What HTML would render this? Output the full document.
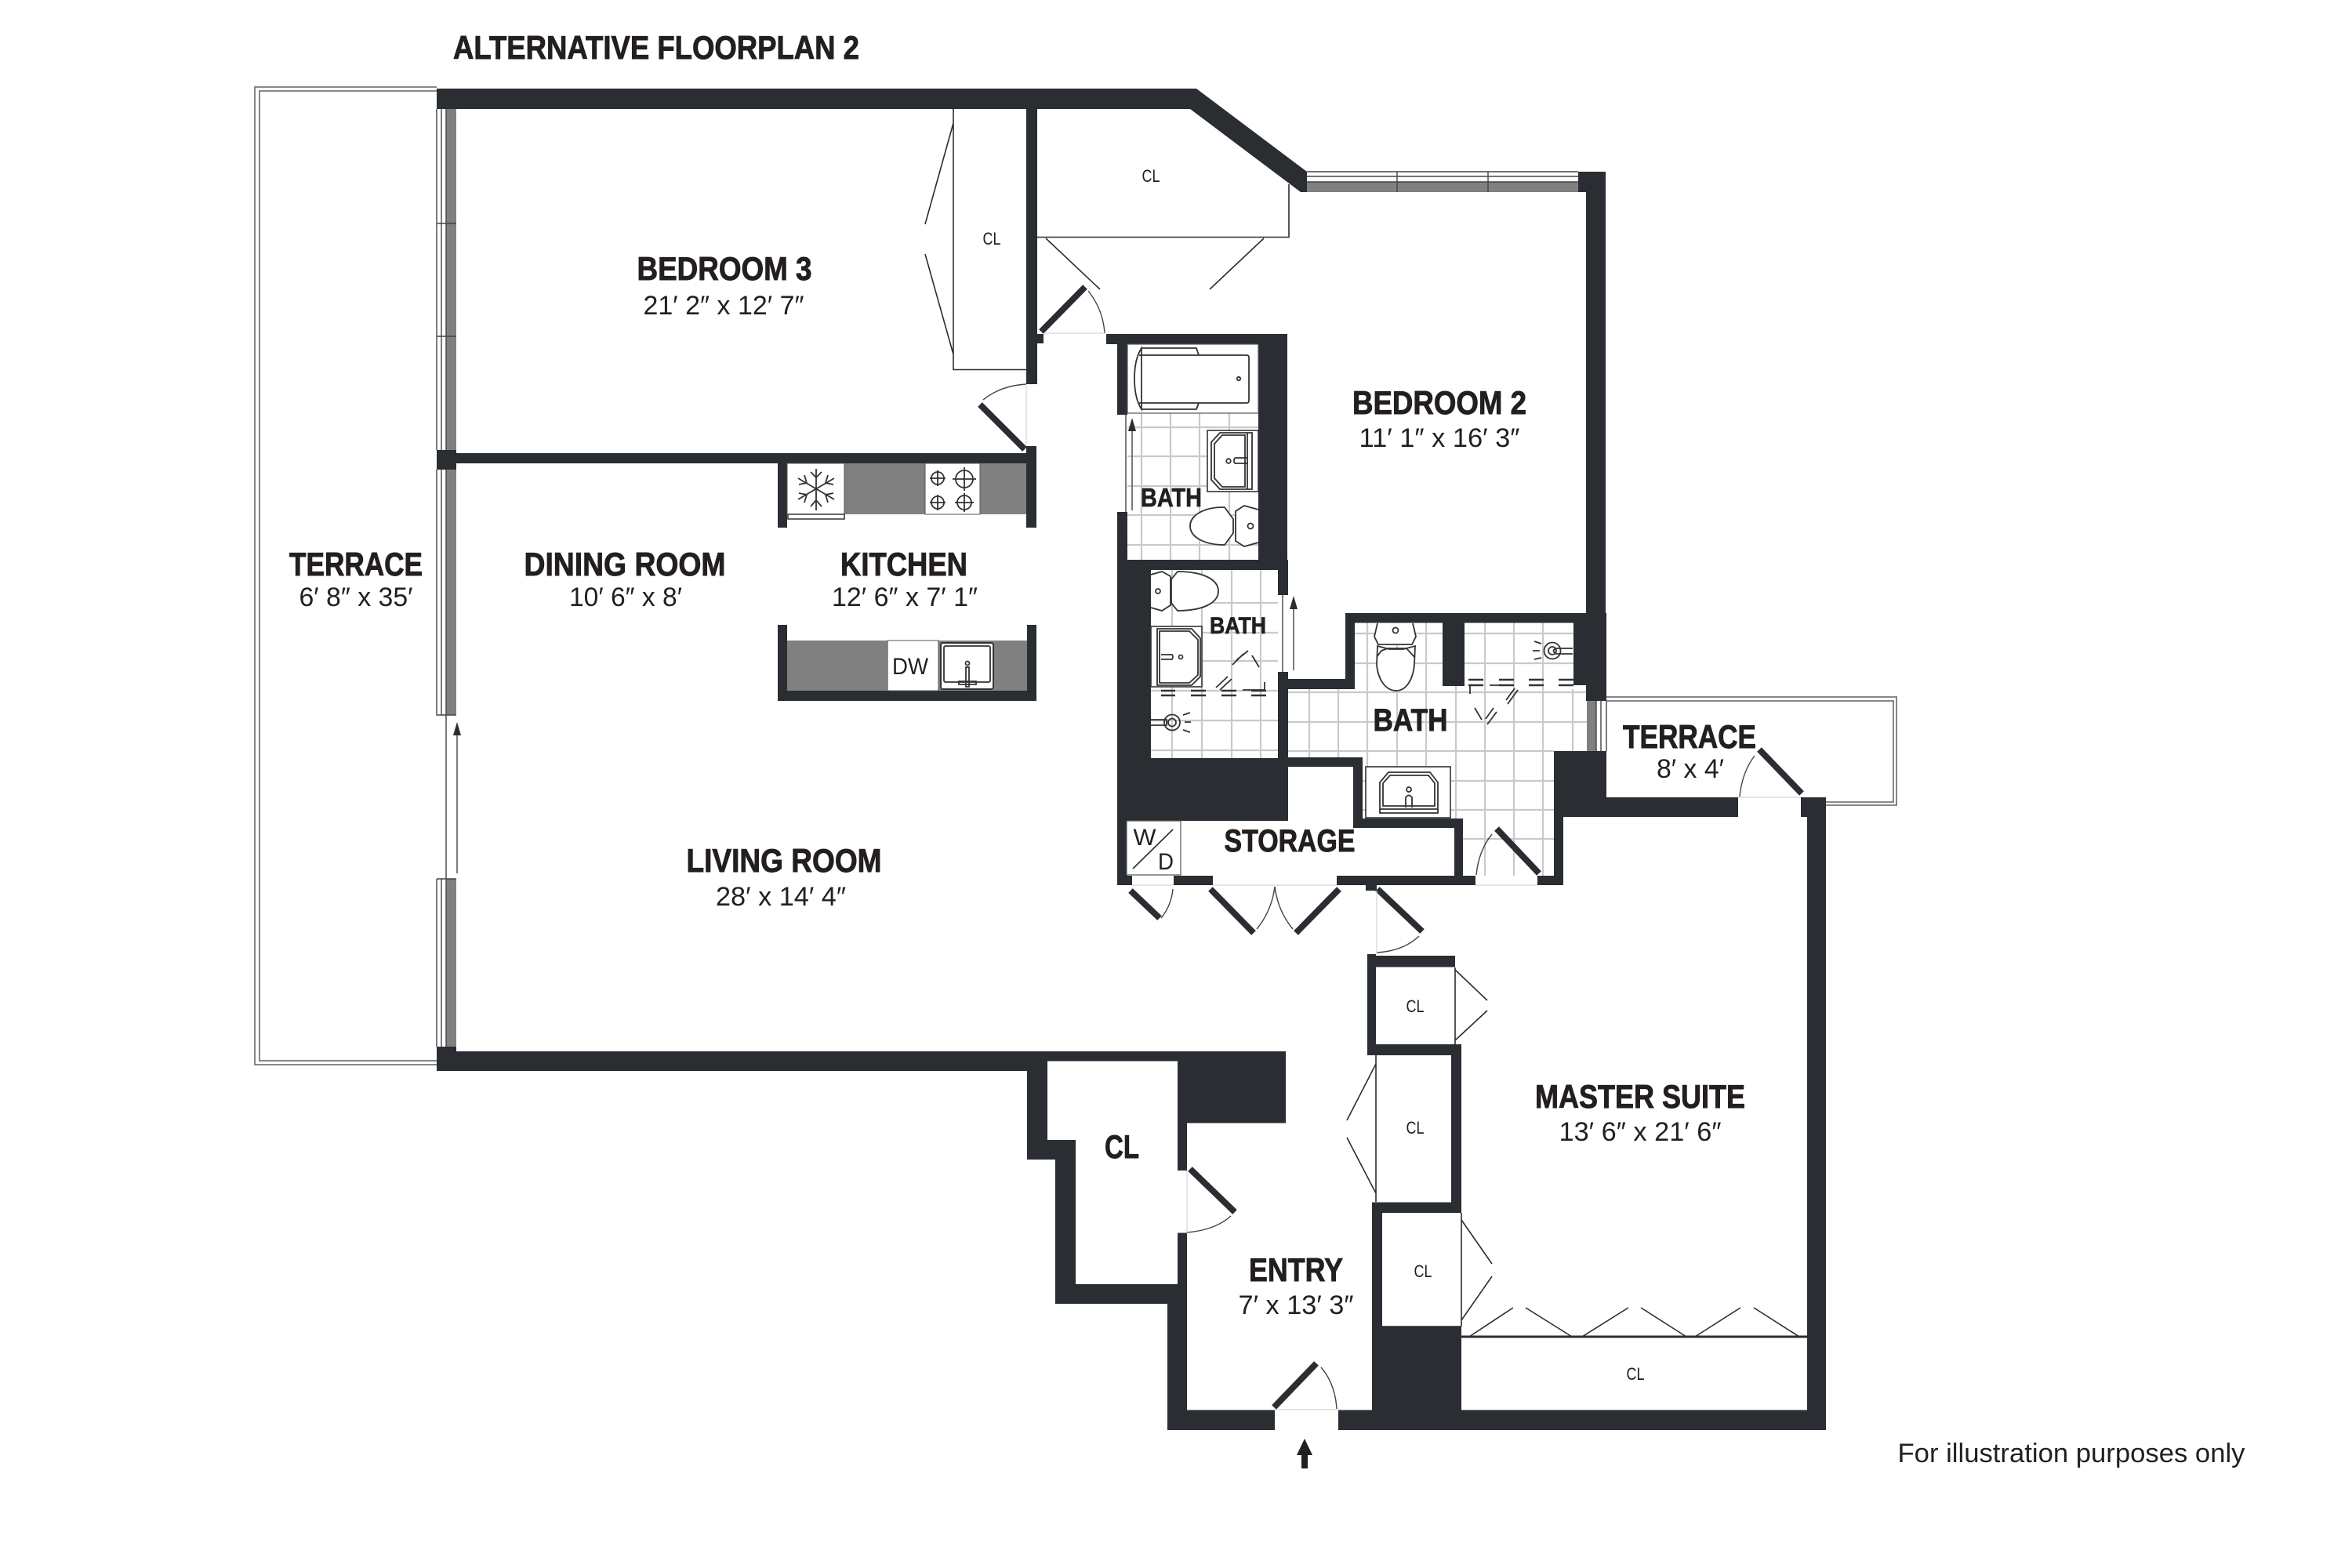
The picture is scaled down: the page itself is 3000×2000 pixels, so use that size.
<!DOCTYPE html>
<html><head><meta charset="utf-8"><title>Alternative Floorplan 2</title>
<style>
html,body{margin:0;padding:0;background:#fff}
svg{display:block}
text{font-family:"Liberation Sans",sans-serif;fill:#231f20;text-anchor:middle}
.b{font-weight:bold;font-size:42px;stroke:#231f20;stroke-width:.9}
.d{font-size:34px}
.m{font-weight:bold;font-size:33px;stroke:#231f20;stroke-width:.7}
.s{font-size:22px}
.w{fill:#2a2d31}
.g{fill:#808080}
.t{stroke:#c9c9cd;stroke-width:2.2;fill:none}
.l{stroke:#2a2d31;stroke-width:1.6;fill:none}
.k{stroke:#2a2d31;stroke-width:8;fill:none}
.a{stroke:#444;stroke-width:1.4;fill:none}
.n{stroke:#333;stroke-width:1.8;fill:none}
.h{stroke:#d5d5d5;stroke-width:1.2;fill:none}
</style></head><body>
<svg xmlns="http://www.w3.org/2000/svg" width="3000" height="2000" viewBox="0 0 3000 2000">
<rect width="3000" height="2000" fill="#fff"/>

<!-- terrace rails -->
<path d="M557 111H325V1358H557M557 116H331V1353H557" fill="none" stroke="#777" stroke-width="1.8"/>
<path d="M2049 889H2419V1027H2329M2049 894H2415V1023H2329" fill="none" stroke="#777" stroke-width="1.8"/>

<!-- bath tile floors -->
<g class="t">
<path d="M1456 527V714M1493 527V714M1530 527V714M1568 527V714M1438 545H1605M1438 582H1605M1438 620H1605M1438 657H1605M1438 695H1605"/>
<path d="M1495 727V967M1533 727V967M1571 727V967M1608 727V967M1468 769H1630M1468 807H1630M1468 843H1630M1468 881H1630M1468 919H1630M1468 957H1630"/>
<path d="M1670 879V966M1707 879V966M1744 794V1044M1782 794V1044M1819 794V1044M1857 875V1117M1894 794V1117M1931 794V1117M1968 794V1117M2006 879V958"/>
<path d="M1727 808H2007M1727 846H2007M1642 883H2024M1642 921H2024M1642 958H1982M1738 996H1982M1738 1033H1982M1866 1070H1982"/>
</g>

<!-- windows -->
<g class="g">
<rect x="569" y="139" width="13" height="435"/>
<rect x="569" y="599" width="13" height="313"/>
<rect x="569" y="1121" width="13" height="214"/>
<rect x="1667" y="232" width="346" height="13"/>
<rect x="2024" y="894" width="12" height="64"/>
</g>
<g class="a" stroke-width="1.5">
<path d="M557 139V574M563 139V574M569 139V574M557 285H582M557 429H582"/>
<path d="M557 599V912H582M563 599V912M569 599V912"/>
<path d="M569 912V1121"/>
<path d="M557 1121H582M557 1121V1335M563 1121V1335M569 1121V1335"/>
<path d="M1667 219H2013M1667 225H2013M1667 232H2013M1782 219V245M1898 219V245"/>
<path d="M2036 894V958M2042 894V958M2049 894V958"/>
</g>

<!-- walls -->
<g class="w">
<polygon points="557,113 1526,113 1667,219 1667,245 1659,245 1518,139 557,139"/>
<rect x="1309" y="139" width="14" height="351"/>
<rect x="1309" y="426" width="22" height="12"/>
<rect x="1309" y="569" width="13" height="104"/>
<rect x="557" y="578" width="765" height="13"/>
<rect x="557" y="574" width="25" height="25"/>
<rect x="992" y="591" width="12" height="82"/>
<rect x="992" y="797" width="12" height="97"/>
<rect x="1310" y="797" width="12" height="97"/>
<rect x="992" y="881" width="330" height="13"/>
<rect x="1411" y="426" width="231" height="13"/>
<rect x="1425" y="426" width="13" height="103"/>
<rect x="1425" y="653" width="13" height="476"/>
<rect x="1605" y="426" width="37" height="301"/>
<rect x="1425" y="714" width="217" height="13"/>
<rect x="1425" y="715" width="43" height="332"/>
<rect x="1630" y="714" width="13" height="45"/>
<rect x="1630" y="857" width="13" height="190"/>
<rect x="1425" y="967" width="218" height="80"/>
<rect x="1425" y="1117" width="19" height="12"/>
<rect x="1497" y="1117" width="50" height="12"/>
<rect x="1705" y="1117" width="177" height="12"/>
<rect x="1961" y="1117" width="33" height="12"/>
<rect x="1742" y="1117" width="14" height="19"/>
<rect x="1716" y="782" width="308" height="12.500"/>
<rect x="1716" y="782" width="12" height="97"/>
<rect x="1631" y="866" width="97" height="13"/>
<rect x="1642" y="966" width="96" height="12"/>
<rect x="1726" y="966" width="12" height="90"/>
<rect x="1726" y="1044" width="140" height="12"/>
<rect x="1855" y="1044" width="11" height="85"/>
<rect x="1840" y="790" width="28" height="85"/>
<rect x="2023" y="219" width="25" height="675"/>
<rect x="2013" y="219" width="35" height="26"/>
<rect x="2007" y="782" width="42" height="92"/>
<rect x="2024" y="782" width="25" height="112"/>
<rect x="1982" y="958" width="67" height="60"/>
<rect x="1982" y="1017" width="235" height="25"/>
<rect x="1982" y="958" width="12" height="171"/>
<rect x="2297" y="1017" width="32" height="25"/>
<rect x="2305" y="1017" width="24" height="807"/>
<rect x="1707" y="1798.500" width="622" height="25.500"/>
<rect x="1489" y="1798.500" width="137" height="25.500"/>
<rect x="1489" y="1638" width="25" height="186"/>
<rect x="1346" y="1638" width="168" height="25"/>
<rect x="1346" y="1454" width="26" height="209"/>
<rect x="1310" y="1454" width="62" height="25"/>
<rect x="1310" y="1341" width="26" height="138"/>
<rect x="557" y="1335" width="25" height="31"/>
<rect x="557" y="1341" width="753" height="25"/>
<rect x="1310" y="1341" width="330" height="12.500"/>
<rect x="1502" y="1341" width="138" height="91.500"/>
<rect x="1502" y="1341" width="12" height="152"/>
<rect x="1502" y="1572.500" width="12" height="90"/>
<rect x="1744" y="1217" width="11" height="129"/>
<rect x="1744" y="1219" width="112" height="14.500"/>
<rect x="1744" y="1332" width="120" height="14"/>
<rect x="1851" y="1332" width="13" height="215"/>
<rect x="1750" y="1533.500" width="114" height="13.500"/>
<rect x="1750" y="1533.500" width="13" height="265"/>
<rect x="1750" y="1692" width="114" height="107"/>
</g>

<!-- kitchen -->
<rect x="1077" y="591" width="103" height="65" class="g"/>
<rect x="1250" y="591" width="59" height="65" class="g"/>
<rect x="1004" y="817" width="306" height="64" class="g"/>
<rect x="1132" y="817" width="65" height="64" fill="#fff" stroke="#555" stroke-width="1"/>
<rect x="1180" y="591" width="70" height="65" fill="#fff" stroke="#555" stroke-width="1"/>
<rect x="1004" y="591" width="73" height="65" fill="#fff" stroke="#555" stroke-width="1"/>
<rect x="1005" y="656" width="72" height="6" fill="#fff" stroke="#333" stroke-width="1.500"/>
<g class="n" stroke-width="1.500">
<path d="M1041 598V651M1018 610L1064 637M1064 610L1018 637M1034 602L1041 609L1048 602M1034 646L1041 638L1048 646M1019 618L1029 616L1026 606M1063 618L1053 616L1056 606M1019 629L1029 631L1026 641M1063 629L1053 631L1056 641"/>
<circle cx="1196" cy="610" r="8"/><circle cx="1230" cy="611" r="11"/><circle cx="1196" cy="641" r="8"/><circle cx="1230" cy="641" r="9"/>
<path d="M1186 610H1206M1196 600V620M1215 611H1245M1230 596V626M1186 641H1206M1196 631V651M1218 641H1242M1230 629V653"/>
</g>
<rect x="1200" y="820" width="67" height="59" rx="3" fill="#fff" stroke="#333" stroke-width="2"/>
<rect x="1204" y="824" width="59" height="46" rx="2" class="n"/>
<g class="n" stroke-width="1.500"><circle cx="1234" cy="846" r="2.500"/><path d="M1232 851H1236V876H1232ZM1223 869H1245V873H1223Z"/></g>

<!-- closet lines and doors -->
<g class="l">
<path d="M1216 139V471.500H1309"/>
<path d="M1216 157L1180 286M1180 324L1216 452"/>
<path d="M1323 302.500H1644V235"/>
<path d="M1334 304L1403 369M1612 304L1543 369"/>
<path d="M1856 1234V1332M1856 1237L1897 1276M1897 1289L1856 1327"/>
<path d="M1755 1346V1533M1755 1357L1718 1429M1718 1451L1755 1522"/>
<path d="M1864 1547V1692M1763 1692H1864M1864 1556L1903 1612M1903 1628L1864 1684"/>
<path d="M1864 1705H2305" stroke-width="3"/>
<path d="M1874 1705L1930 1668M1946 1668L2005 1705M2018 1705L2077 1668M2093 1668L2151 1705M2162 1705L2220 1668M2237 1668L2295 1705"/>
</g>
<g class="k">
<path d="M1328 423L1384 366"/>
<path d="M1250 516L1307 573"/>
<path d="M1442 1136L1479 1171"/>
<path d="M1544 1134L1599 1190M1708 1134L1653 1190"/>
<path d="M1757 1134L1814 1188"/>
<path d="M1909 1057L1963 1114"/>
<path d="M2244 956L2298 1012"/>
<path d="M1518 1491L1575 1546"/>
<path d="M1625 1795L1679 1739"/>
</g>
<g class="a">
<path d="M1388 371Q1407 395 1409 425"/>
<path d="M1254 510Q1276 492 1309 490"/>
<path d="M1496 1134Q1494 1155 1481 1171"/>
<path d="M1626 1131Q1622 1162 1603 1185M1626 1131Q1630 1162 1649 1185"/>
<path d="M1810 1194Q1790 1213 1756 1215"/>
<path d="M1903 1064Q1886 1085 1883 1116"/>
<path d="M2238 964Q2222 985 2219 1016"/>
<path d="M1570 1551Q1550 1569 1514 1572"/>
<path d="M1685 1744Q1703 1765 1705 1797"/>
</g>
<g class="h">
<path d="M1331 425H1411M1309 490V569M1444 1129H1497M1547 1129H1705M1756 1136V1217M1882 1129H1961M2217 1017H2297M1514 1493V1572M1626 1798H1707"/>
</g>

<!-- sliding door arrows -->
<g class="a" stroke-width="2">
<path d="M583 1114V930M1444 651V545M1650 855V772M1436 529V653M1636 759V857"/>
</g>
<g class="w">
<path d="M583 921L578 938H588Z"/>
<path d="M1444 533L1439 550H1449Z"/>
<path d="M1650 760L1645 777H1655Z"/>
</g>

<!-- bath 1 fixtures -->
<rect x="1438" y="439" width="167" height="88" fill="#fff" stroke="#555" stroke-width="1.200"/>
<g class="n">
<path d="M1456 444H1526L1529 453M1456 522H1526L1529 514M1456 444Q1447 458 1447 483Q1447 508 1456 522Z"/>
<path d="M1453 453H1590Q1593 453 1593 456V511Q1593 514 1590 514H1453"/>
<circle cx="1580" cy="483" r="2.200"/>
<rect x="1540" y="549" width="65" height="78" fill="#fff" stroke-width="1.600"/>
<path d="M1556 552H1597V624H1556L1545 612V564Z"/>
<path d="M1559 555H1588V621H1559L1549 610V566ZM1591 552V624"/>
<circle cx="1567" cy="588" r="2.800"/>
<path d="M1592 584H1576Q1574 584 1574 588Q1574 591 1576 591H1592"/>
<path d="M1605 650L1587 645L1576 652L1576 690L1587 697L1605 692" fill="#fff"/>
<path d="M1562 647H1560C1536 647 1518 657 1518 671C1518 685 1536 695 1562 695L1573 680V662Z" fill="#fff"/>
<circle cx="1595" cy="671" r="3.500"/>
</g>

<!-- bath 2 fixtures -->
<g class="n">
<path d="M1468 733L1482 729L1493 735V772L1482 779L1468 775" fill="#fff"/>
<path d="M1502 729C1532 729 1554 738 1554 754C1554 770 1532 779 1502 779L1494 769V739Z" fill="#fff"/>
<circle cx="1477" cy="754" r="3"/>
<rect x="1468" y="799" width="65" height="77" fill="#fff" stroke-width="1.600"/>
<path d="M1476 802H1520L1531 814V863L1520 874H1476ZM1479 805H1517L1528 816V861L1517 871H1479Z"/>
<circle cx="1506" cy="838" r="2.500"/>
<path d="M1481 835H1495Q1497 838 1495 841H1481"/>
<path d="M1468 918H1488V925H1468"/><circle cx="1495" cy="921.500" r="10"/><circle cx="1495" cy="921.500" r="5"/>
<path d="M1509 912L1518 909M1511 921H1519M1509 931L1518 934"/>
<path d="M1481 881H1499M1519 881H1538M1558 881H1577M1596 881H1615M1481 887H1499M1519 887H1538M1558 887H1577M1596 887H1615" stroke-width="2.500"/>
<path d="M1613 870V880H1585M1577 842L1592 830M1572 848L1586 834M1551 877L1566 863M1556 880L1571 866M1597 836L1606 851" stroke-width="1.800"/>
</g>

<!-- master bath fixtures -->
<g class="n">
<path d="M1757 795L1753 812L1758 822H1801L1806 812L1802 795" fill="#fff"/>
<circle cx="1780" cy="804" r="3.500"/>
<path d="M1757 824L1772 828H1790L1805 824L1804 848C1802 868 1793 881 1781 881C1768 881 1758 868 1756 848Z" fill="#fff"/>
<path d="M1756 838L1762 830L1770 827H1794L1804 838"/>
<rect x="1742" y="978" width="108" height="65" fill="#fff" stroke-width="1.600"/>
<path d="M1760 998L1771 985H1824L1834 998V1037H1760ZM1764 999L1773 989H1822L1830 999V1028H1764ZM1760 1032H1834"/>
<circle cx="1797" cy="1007" r="3"/>
<path d="M1793 1030V1017Q1797 1012 1801 1017V1030"/>
<path d="M2006 827H1985Q1978 830 1985 834H2006" fill="#fff"/>
<circle cx="1980" cy="830" r="10.500" class="n"/>
<circle cx="1980" cy="830" r="5" class="n"/>
<path d="M1966 821L1957 818M1964 830H1955M1966 839L1957 841"/>
<path d="M1873 867H1892M1912 867H1931M1950 867H1969M1988 867H2007M1873 874H1892M1912 874H1931M1950 874H1969M1988 874H2007" stroke-width="2.500"/>
<path d="M1875 885V874H1892M1900 874H1919M1932 878L1921 893M1936 880L1923 898M1905 903L1895 917M1909 908L1897 924M1881 903L1890 918" stroke-width="1.800"/>
</g>

<!-- W/D -->
<rect x="1437" y="1047" width="69" height="69" fill="#fff" stroke="#555" stroke-width="1.200"/>
<path d="M1496 1058L1445 1108" class="l"/>

<!-- entry arrow -->
<path d="M1664 1835L1674 1856H1668V1873H1660V1856H1654Z" fill="#231f20"/>

<!-- text -->
<text class="b" x="837" y="75" textLength="518" lengthAdjust="spacingAndGlyphs">ALTERNATIVE FLOORPLAN 2</text>

<text class="b" x="924" y="357" textLength="223" lengthAdjust="spacingAndGlyphs">BEDROOM 3</text>
<text class="d" x="923" y="401" textLength="205" lengthAdjust="spacingAndGlyphs">21′ 2″ x 12′ 7″</text>

<text class="b" x="1836" y="528" textLength="222" lengthAdjust="spacingAndGlyphs">BEDROOM 2</text>
<text class="d" x="1836" y="570" textLength="205" lengthAdjust="spacingAndGlyphs">11′ 1″ x 16′ 3″</text>

<text class="b" x="454" y="734" textLength="170" lengthAdjust="spacingAndGlyphs">TERRACE</text>
<text class="d" x="454" y="773" textLength="145" lengthAdjust="spacingAndGlyphs">6′ 8″ x 35′</text>

<text class="b" x="797" y="734" textLength="257" lengthAdjust="spacingAndGlyphs">DINING ROOM</text>
<text class="d" x="798" y="773" textLength="144" lengthAdjust="spacingAndGlyphs">10′ 6″ x 8′</text>

<text class="b" x="1153" y="734" textLength="162" lengthAdjust="spacingAndGlyphs">KITCHEN</text>
<text class="d" x="1154" y="773" textLength="186" lengthAdjust="spacingAndGlyphs">12′ 6″ x 7′ 1″</text>

<text class="b" x="1000" y="1112" textLength="249" lengthAdjust="spacingAndGlyphs">LIVING ROOM</text>
<text class="d" x="996" y="1155" textLength="166" lengthAdjust="spacingAndGlyphs">28′ x 14′ 4″</text>

<text class="m" x="1494" y="646" textLength="78" lengthAdjust="spacingAndGlyphs">BATH</text>
<text class="m" x="1579" y="808" textLength="72" lengthAdjust="spacingAndGlyphs" style="font-size:30px">BATH</text>
<text class="b" x="1799" y="932" textLength="95" lengthAdjust="spacingAndGlyphs" style="font-size:40px">BATH</text>

<text class="b" x="1645" y="1086" textLength="167" lengthAdjust="spacingAndGlyphs" style="font-size:40px">STORAGE</text>

<text class="b" x="2155" y="954" textLength="170" lengthAdjust="spacingAndGlyphs">TERRACE</text>
<text class="d" x="2156" y="992" textLength="86" lengthAdjust="spacingAndGlyphs">8′ x 4′</text>

<text class="b" x="2092" y="1413" textLength="268" lengthAdjust="spacingAndGlyphs">MASTER SUITE</text>
<text class="d" x="2092" y="1455" textLength="207" lengthAdjust="spacingAndGlyphs">13′ 6″ x 21′ 6″</text>

<text class="b" x="1653" y="1634" textLength="120" lengthAdjust="spacingAndGlyphs">ENTRY</text>
<text class="d" x="1653" y="1676" textLength="147" lengthAdjust="spacingAndGlyphs">7′ x 13′ 3″</text>

<text class="b" x="1431" y="1477" textLength="44" lengthAdjust="spacingAndGlyphs">CL</text>

<text class="s" x="1265" y="312" textLength="23" lengthAdjust="spacingAndGlyphs">CL</text>
<text class="s" x="1468" y="232" textLength="23" lengthAdjust="spacingAndGlyphs">CL</text>
<text class="s" x="1805" y="1291" textLength="23" lengthAdjust="spacingAndGlyphs">CL</text>
<text class="s" x="1805" y="1446" textLength="23" lengthAdjust="spacingAndGlyphs">CL</text>
<text class="s" x="1815" y="1629" textLength="23" lengthAdjust="spacingAndGlyphs">CL</text>
<text class="s" x="2086" y="1760" textLength="23" lengthAdjust="spacingAndGlyphs">CL</text>

<text x="1161" y="860" style="font-size:30px" textLength="46" lengthAdjust="spacingAndGlyphs">DW</text>
<text x="1460" y="1078" style="font-size:30px" textLength="29" lengthAdjust="spacingAndGlyphs">W</text>
<text x="1487" y="1109" style="font-size:30px" textLength="20" lengthAdjust="spacingAndGlyphs">D</text>

<text class="d" x="2642" y="1865" textLength="443" lengthAdjust="spacingAndGlyphs">For illustration purposes only</text>
</svg>
</body></html>
